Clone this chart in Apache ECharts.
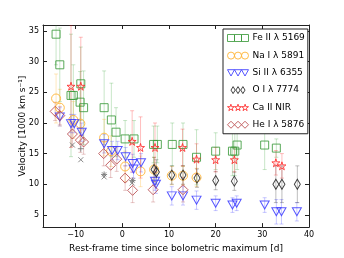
<!DOCTYPE html>
<html><head><meta charset="utf-8">
<script src="https://cdn.jsdelivr.net/npm/echarts@6/dist/echarts.min.js"></script>
<style>html,body{margin:0;padding:0;background:#fff}#c{width:344px;height:258px}</style>
</head><body><div id="c"></div>
<script>
// ---- data (days since bolometric max, velocity [1000 km/s], error) ----
const feDays = [-14.2,-13.4,-11.0,-10.5,-8.9,-9.05,-8.3,-3.9,-2.35,-1.35,0.6,2.5,6.7,7.5,10.7,13.0,15.9,20.0,23.6,24.1,24.6,30.5,33.0];
const feVel  = [34.5,29.5,24.5,24.5,26.4,23.4,22.5,22.5,20.5,18.5,17.4,17.4,16.5,16.5,16.5,16.5,14.4,15.4,15.4,15.4,16.4,16.4,15.9];
const feErr  = [5,6,10,5,6,5,6,6,6,4,3,3,3,3,3.5,3.5,4.5,3,4,4,4,4,1.5];

const naDays = [-14.2,-13.4,-10.5,-9.0,-3.9,-2.4,0.6,3.9,6.8,10.6,13.0,15.9];
const naVel  = [24.0,22.5,20.5,19.9,17.6,15.4,12.9,12.1,12.4,11.4,11.4,11.1];
const naErr  = [4,3,3,3,3,2.5,2.5,2.5,2,1.5,1.5,1.5];

const siDays = [-13.4,-11.0,-10.3,-8.7,-3.9,-2.2,-1.0,0.7,2.2,2.4,4.0,7.0,7.2,10.6,13.0,15.9,20.0,23.6,24.5,30.5,33.0,34.1,37.4];
const siVel  = [21.0,19.9,19.9,18.5,16.6,15.5,15.5,14.5,13.4,12.5,13.5,10.5,10.0,8.1,8.1,7.4,6.9,6.6,6.9,6.6,5.5,5.5,5.5];
const siErr  = [1.5,1.5,1.5,1.5,1.5,1.5,1.5,1.5,1.5,1.5,1.5,1.5,1.5,1.5,1.5,1.5,1.2,1.2,1.2,1.2,2,2,1.5];

const oDays = [6.8,7.3,10.6,13.0,16.0,20.0,24.0,32.9,34.2,37.5];
const oVel  = [12.4,12.0,11.5,11.5,11.0,10.6,10.5,10.0,10.0,10.0];
const oErr  = [2,2,1.5,1.5,1.5,1.5,1.5,3,3,3];

const caDays = [-11.0,-8.9,2.1,3.9,7.0,12.9,15.9,20.0,24.0,32.9,34.2];
const caVel  = [26.0,26.0,17.0,16.0,16.0,16.0,14.1,14.0,14.0,13.5,13.0];
const caErr  = [10,8,5,5,4,3,2.5,2,2,2,2];

const heDays = [-14.4,-13.4,-10.7,-9.0,-8.3,-4.0,-2.5,-1.2,0.6,2.2,6.6,13.0];
const heVel  = [21.9,21.2,18.2,17.2,16.9,15.0,13.1,14.1,11.0,9.0,9.1,9.1];
const heErr  = [1.5,1.5,2,2,2,2,2,2,2,2,2,2];

const grayXDays = [-10.7,-8.9,2.1,-3.9];
const grayXVel  = [16.4,14.0,10.2,11.2];
const grayPlusDays = [-8.9];
const grayPlusVel  = [15.8];
const grayStarDays = [-3.9,2.2];
const grayStarVel  = [11.6,10.6];

const xTicks = [-10,0,10,20,30,40];
const yTicks = [5,10,15,20,25,30,35];
const names = ['Fe II λ 5169','Na I λ 5891','Si II λ 6355','O I λ 7774','Ca II NIR','He I λ 5876'];

// ---- helpers ----
const pts = (d,v)=>d.map((x,i)=>[x,v[i]]);
const errs = (d,v,e)=>d.map((x,i)=>[x,v[i],e[i]]);
const FONT = 'DejaVu Sans';

const SQ='path://M0,0L10,0L10,10L0,10Z';
const TRI='path://M0,0L10,0L5,9Z';
const DIA='path://M5,0L10,5L5,10L0,5Z';
const STAR='path://M50,0L61,35L98,35L68,57L79,91L50,70L21,91L32,57L2,35L39,35Z';
const CROSS='path://M0,0L10,10M10,0L0,10';
const PLUS='path://M5,0L5,10M0,5L10,5';
const AST='path://M5,0L5,10M0,5L10,5M1.5,1.5L8.5,8.5M8.5,1.5L1.5,8.5';

const legIcons = [
 'path://M0,0h10v10h-10zM10,0h10v10h-10zM20,0h10v10h-10z',
 'path://M0,5A5,5 0 1,0 10,5A5,5 0 1,0 0,5ZM10,5A5,5 0 1,0 20,5A5,5 0 1,0 10,5ZM20,5A5,5 0 1,0 30,5A5,5 0 1,0 20,5Z',
 'path://M0,0L10,0L5,9ZM10,0L20,0L15,9ZM20,0L30,0L25,9Z',
 'path://M3,0L6,5L3,10L0,5ZM10,0L13,5L10,10L7,5ZM17,0L20,5L17,10L14,5Z',
 'path://M50,0L61,35L98,35L68,57L79,91L50,70L21,91L32,57L2,35L39,35ZM150,0L161,35L198,35L168,57L179,91L150,70L121,91L132,57L102,35L139,35ZM250,0L261,35L298,35L268,57L279,91L250,70L221,91L232,57L202,35L239,35Z',
 'path://M5,0L10,5L5,10L0,5ZM15,0L20,5L15,10L10,5ZM25,0L30,5L25,10L20,5Z'
];
const colors = ['#3d9b3d','#ffb02a','#3a3aff','#222222','#ff2a2a','#b8494b'];
const errColors = ['#2ca02c','#ffa500','#3030ff','#000000','#ff0000','#a52a2a'];

function errSeries(data, col){
  return {type:'custom', data, z:1, clip:true, silent:true,
    renderItem:(p,api)=>{
      const x=api.value(0), y=api.value(1), e=api.value(2);
      const a=api.coord([x,y+e]), b=api.coord([x,y-e]);
      const st={stroke:col, lineWidth:1, opacity:0.26};
      return {type:'group', children:[
        {type:'line', shape:{x1:a[0],y1:a[1],x2:b[0],y2:b[1]}, style:st},
        {type:'line', shape:{x1:a[0]-2,y1:a[1],x2:a[0]+2,y2:a[1]}, style:st},
        {type:'line', shape:{x1:b[0]-2,y1:b[1],x2:b[0]+2,y2:b[1]}, style:st}
      ]};
    }};
}
function sc(name, data, sym, size, col){
  return {type:'scatter', name, data, symbol:sym, symbolSize:size, z:3,
    itemStyle:{color:'none', borderColor:col, borderWidth:1, opacity:0.85}};
}

const series = [
  errSeries(errs(feDays,feVel,feErr), errColors[0]),
  errSeries(errs(naDays,naVel,naErr), errColors[1]),
  errSeries(errs(siDays,siVel,siErr), errColors[2]),
  errSeries(errs(oDays,oVel,oErr), errColors[3]),
  errSeries(errs(caDays,caVel,caErr), errColors[4]),
  errSeries(errs(heDays,heVel,heErr), errColors[5]),
  sc(names[0], pts(feDays,feVel), SQ, 8, colors[0]),
  sc(names[1], pts(naDays,naVel), 'circle', 9, colors[1]),
  sc(names[2], pts(siDays,siVel), TRI, [9,8], colors[2]),
  sc(names[3], pts(oDays,oVel), DIA, [6,10], colors[3]),
  sc(names[4], pts(caDays,caVel), STAR, 8, colors[4]),
  sc(names[5], pts(heDays,heVel), DIA, 10, colors[5]),
  sc('gx', pts(grayXDays,grayXVel), CROSS, 5, '#777'),
  sc('gp', pts(grayPlusDays,grayPlusVel), PLUS, 6, '#777'),
  sc('gs', pts(grayStarDays,grayStarVel), AST, 6, '#777')
];

const minus = v=>String(v).replace('-','\u2212');
const axLine = {show:true, onZero:false, lineStyle:{color:'#222', width:1}};
const tick = vals=>({show:true, inside:true, length:4, customValues:vals, lineStyle:{color:'#222'}});

const option = {
  animation:false,
  grid:{left:43, right:35, top:25, bottom:26, containLabel:false},
  legend:{
    orient:'vertical', left:223, top:29, width:80,
    padding:[3,3,3,2], itemGap:5.6, itemWidth:21, itemHeight:7,
    backgroundColor:'#fff', borderColor:'#222', borderWidth:1,
    textStyle:{fontFamily:FONT, fontSize:9, color:'#000', padding:[0,0,0,-1]},
    data: names.map((n,i)=>({name:n, icon:legIcons[i],
      itemStyle:{color:'none', borderColor:colors[i], borderWidth:1}}))
  },
  xAxis:[
    {type:'value', min:-17, max:40, position:'bottom',
     name:'Rest-frame time since bolometric maximum [d]', nameLocation:'middle', nameGap:16,
     nameTextStyle:{fontFamily:FONT, fontSize:9, color:'#000'},
     axisLine:axLine, axisTick:tick(xTicks), splitLine:{show:false},
     axisLabel:{customValues:xTicks, fontFamily:FONT, fontSize:8, color:'#000', margin:4, formatter:minus}},
    {type:'value', min:-17, max:40, position:'top',
     axisLine:axLine, axisTick:tick(xTicks), splitLine:{show:false}, axisLabel:{show:false}}
  ],
  yAxis:[
    {type:'value', min:3, max:36, position:'left',
     name:'Velocity [1000 km s\u207B\u00B9]', nameLocation:'middle', nameGap:16, nameMoveOverlap:false,
     nameTextStyle:{fontFamily:FONT, fontSize:9, color:'#000', verticalAlign:'bottom'},
     axisLine:axLine, axisTick:tick(yTicks), splitLine:{show:false},
     axisLabel:{customValues:yTicks, fontFamily:FONT, fontSize:8, color:'#000', margin:4}},
    {type:'value', min:3, max:36, position:'right',
     axisLine:axLine, axisTick:tick(yTicks), splitLine:{show:false}, axisLabel:{show:false}}
  ],
  series
};
echarts.init(document.getElementById('c'), null, {renderer:'canvas'}).setOption(option);
</script></body></html>
